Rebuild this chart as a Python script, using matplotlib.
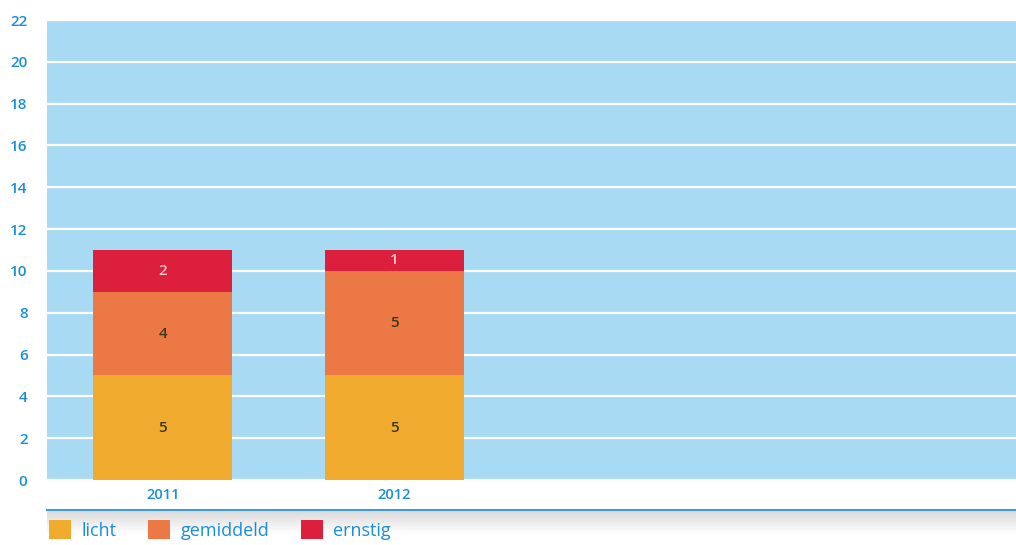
import numpy as np
import matplotlib.pyplot as plt
from matplotlib.patches import Patch
from matplotlib.lines import Line2D

# data
years = ['2011', '2012']
licht = [5, 5]
gemiddeld = [4, 5]
ernstig = [2, 1]
series_names = ['licht', 'gemiddeld', 'ernstig']

blue_txt = '#1a8fd6'
bg_blue = '#a9daf3'
colors = ['#f0ab2e', '#ec7845', '#dc1f3d']
label_colors = ['#3b3a1c', '#3b3a1c', '#f6c8cc']

plt.rcParams['font.family'] = ['Open Sans', 'DejaVu Sans']

fig = plt.figure(figsize=(10.16, 5.45), dpi=100)
ax = fig.add_axes([47 / 1016, 65 / 545, 969 / 1016, 460 / 545])
ax.set_facecolor(bg_blue)

x = np.arange(len(years))
bottom = np.zeros(len(years))
for vals, col, lc in zip([licht, gemiddeld, ernstig], colors, label_colors):
    bars = ax.bar(x, vals, width=0.6, bottom=bottom, color=col, zorder=3)
    for b, v, y0 in zip(bars, vals, bottom):
        ax.text(b.get_x() + b.get_width() / 2, y0 + v / 2, str(v),
                ha='center', va='center', fontsize=11, color=lc,
                fontweight='semibold', zorder=4)
    bottom = bottom + np.array(vals)

ax.set_ylim(0, 22)
ax.set_xlim(-0.5, 3.686)
ax.set_yticks(range(0, 23, 2))
ax.yaxis.grid(True, color='white', linewidth=1.6, zorder=1)
ax.set_axisbelow(True)
ax.set_xticks(x)
ax.set_xticklabels(years)
ax.tick_params(axis='y', length=0, pad=14, labelsize=11, labelcolor=blue_txt)
ax.tick_params(axis='x', length=0, pad=6, labelsize=10.5, labelcolor=blue_txt)
for lab in ax.get_yticklabels() + ax.get_xticklabels():
    lab.set_fontweight('semibold')
for s in ax.spines.values():
    s.set_visible(False)

# blue rule under the chart and a soft grey shadow
fig.add_artist(Line2D([47 / 1016, 1], [35 / 545, 35 / 545], color='#3f9bd6',
                      linewidth=1.5, transform=fig.transFigure))
sh = fig.add_axes([47 / 1016, 10 / 545, 969 / 1016, 24 / 545])
grad = np.linspace(0.86, 1.0, 50).reshape(-1, 1)
sh.imshow(grad, aspect='auto', cmap='gray', vmin=0, vmax=1, extent=[0, 1, 0, 1])
sh.axis('off')

# legend
handles = [Patch(facecolor=c, edgecolor='none') for c in colors]
leg = fig.legend(handles, series_names, loc='lower left',
                 bbox_to_anchor=(0.032, -0.02), ncol=3, frameon=False,
                 handlelength=1.25, handleheight=1.3, columnspacing=1.75,
                 handletextpad=0.55, fontsize=13)
for t in leg.get_texts():
    t.set_color(blue_txt)

fig.savefig('out.png', dpi=100)
